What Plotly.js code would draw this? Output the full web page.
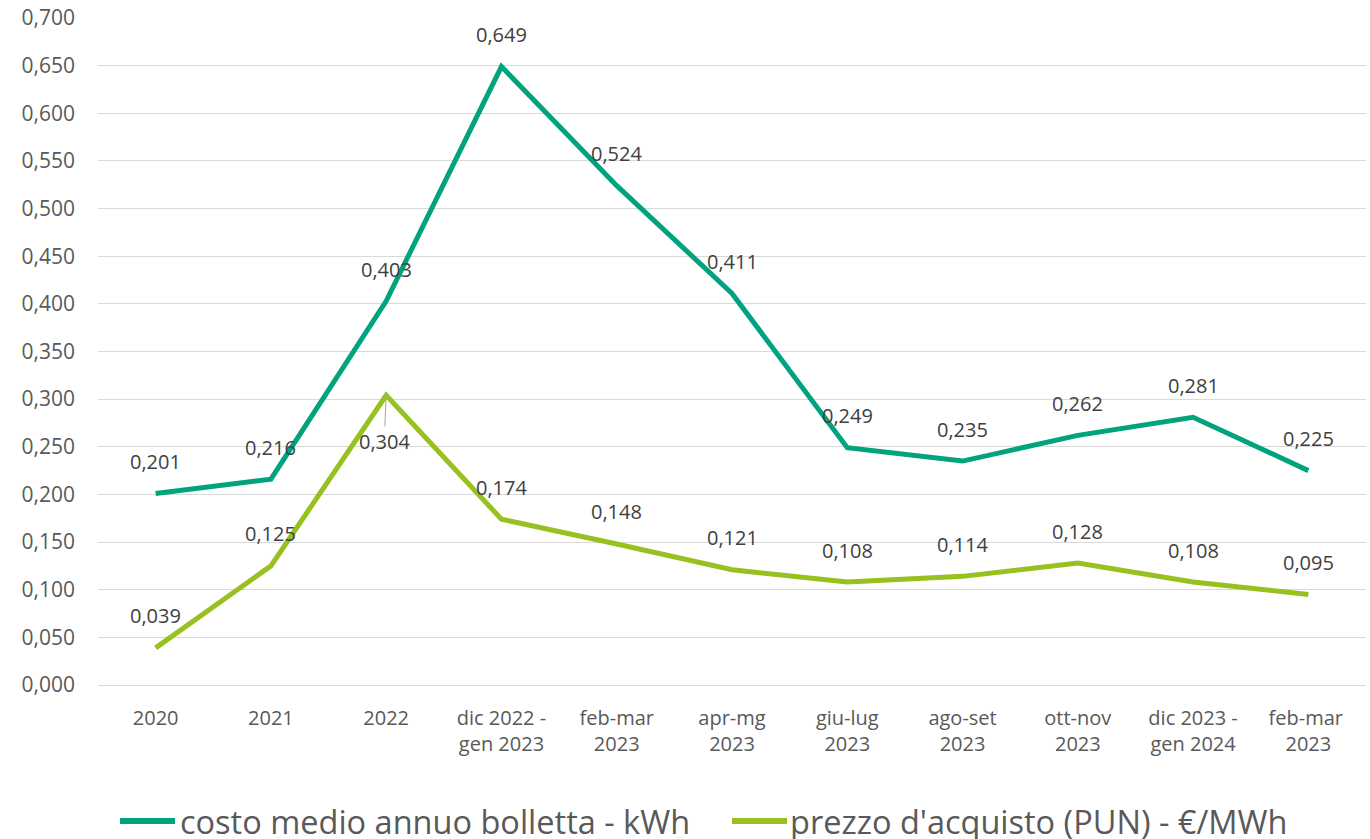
<!DOCTYPE html>
<html>
<head>
<meta charset="utf-8">
<script src="https://cdn.plot.ly/plotly-3.0.1.min.js"></script>
<style>html,body{margin:0;padding:0;background:#fff;}#chart{width:1370px;height:839px;}</style>
</head>
<body>
<div id="chart"></div>
<script>
const categories = ["2020", "2021", "2022", "dic 2022 -<br>gen 2023", "feb-mar<br>2023", "apr-mg<br>2023", "giu-lug<br>2023", "ago-set<br>2023", "ott-nov<br>2023", "dic 2023 -<br>gen 2024", "feb-mar <br>2023"];
const costoMedio = [0.201, 0.216, 0.403, 0.649, 0.524, 0.411, 0.249, 0.235, 0.262, 0.281, 0.225];
const prezzoPUN = [0.039, 0.125, 0.304, 0.174, 0.148, 0.121, 0.108, 0.114, 0.128, 0.108, 0.095];
const seriesNames = ["costo medio annuo bolletta - kWh", "prezzo d'acquisto (PUN) - €/MWh"];
const yTicks = [0, 0.05, 0.1, 0.15, 0.2, 0.25, 0.3, 0.35, 0.4, 0.45, 0.5, 0.55, 0.6, 0.65, 0.7];

const TEAL = "#00A37D";
const LIME = "#96C11F";
const COLORS = [TEAL, LIME];
const FONT = "Open Sans, sans-serif";
const fmt = v => v.toFixed(3).replace(".", ",");

// plot-area geometry in pixels (for the hand-built legend)
const W = 1370, H = 839, ML = 98, MR = 4, MT = 18, MB = 154;
const PW = W - ML - MR, PH = H - MT - MB;
const px2x = p => (p - ML) / PW;
const py2y = p => (H - MB - p) / PH;

const traces = [
  {x: categories, y: costoMedio, name: seriesNames[0], type: "scatter", mode: "lines",
   line: {color: TEAL, width: 5}, hoverinfo: "skip", showlegend: false},
  {x: categories, y: prezzoPUN, name: seriesNames[1], type: "scatter", mode: "lines",
   line: {color: LIME, width: 5}, hoverinfo: "skip", showlegend: false}
];

const labelFont = {family: FONT, size: 20, color: "#404040"};
const annotations = [];
costoMedio.forEach((v, i) => {
  annotations.push({x: i, y: v, xref: "x", yref: "y", text: fmt(v), showarrow: false,
    yshift: 32, font: labelFont});
});
prezzoPUN.forEach((v, i) => {
  if (i === 2) {
    annotations.push({x: i, y: v, xref: "x", yref: "y", text: fmt(v), showarrow: true,
      ax: -2, ay: 46, arrowhead: 0, arrowwidth: 1, arrowcolor: "#A6A6A6", standoff: 0,
      font: labelFont});
  } else {
    annotations.push({x: i, y: v, xref: "x", yref: "y", text: fmt(v), showarrow: false,
      yshift: 32, font: labelFont});
  }
});

// legend
const legendY = 821;
const legendItems = [{sym: 120, txt: 178}, {sym: 732, txt: 788}];
const shapes = [];
legendItems.forEach((it, k) => {
  shapes.push({type: "line", xref: "paper", yref: "paper",
    x0: px2x(it.sym), x1: px2x(it.sym + 55), y0: py2y(legendY), y1: py2y(legendY),
    line: {color: COLORS[k], width: 6}});
  annotations.push({xref: "paper", yref: "paper", x: px2x(it.txt), y: py2y(legendY),
    xanchor: "left", yanchor: "middle", showarrow: false, text: seriesNames[k],
    font: {family: FONT, size: 32.5, color: "#595959"}});
});

const layout = {
  width: W, height: H,
  margin: {l: ML, r: MR, t: MT, b: MB},
  paper_bgcolor: "#fff", plot_bgcolor: "#fff",
  separators: ", ",
  font: {family: FONT, color: "#595959", size: 20},
  showlegend: false,
  xaxis: {type: "category", range: [-0.5, categories.length - 0.5], showgrid: false, zeroline: false,
    showline: true, linecolor: "#D9D9D9", linewidth: 1, ticks: "",
    tickfont: {family: FONT, size: 20, color: "#595959"}, ticklabelstandoff: 15, fixedrange: true},
  yaxis: {range: [0, 0.7], tickvals: yTicks, tickformat: ".3f", showgrid: true, gridcolor: "#D9D9D9",
    gridwidth: 1, zeroline: false, showline: false, ticks: "",
    tickfont: {family: FONT, size: 21, color: "#595959"}, ticklabelstandoff: 22, fixedrange: true},
  annotations: annotations,
  shapes: shapes
};

Plotly.newPlot("chart", traces, layout, {displayModeBar: false, staticPlot: true});
</script>
</body>
</html>
